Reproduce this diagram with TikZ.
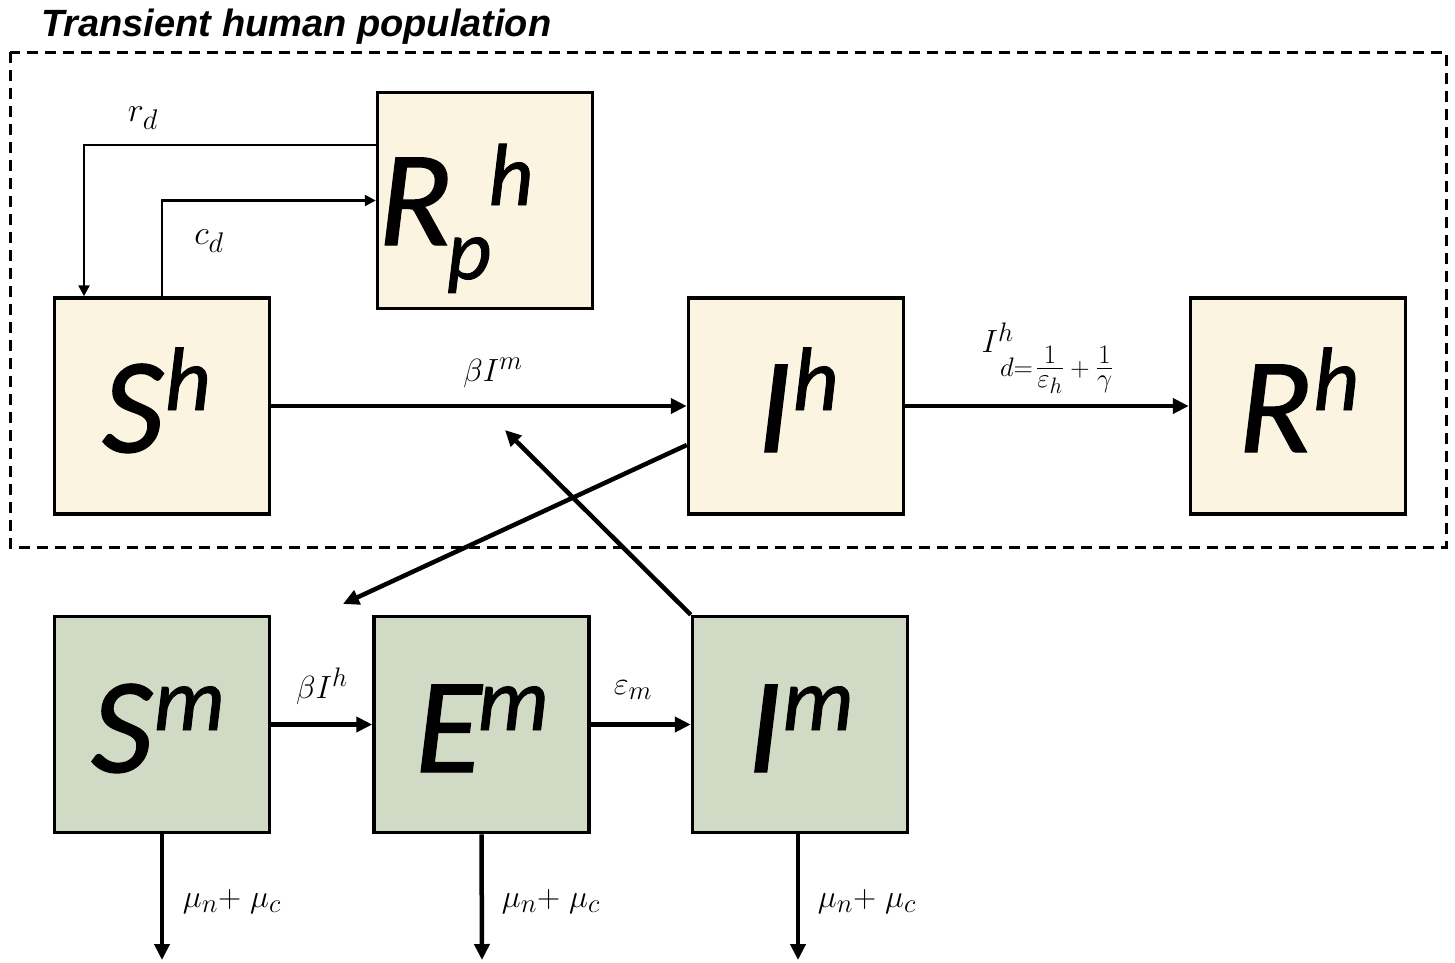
\documentclass[tikz,border=0pt]{standalone}
\usepackage{fontspec}
\usepackage{amsmath}
\usepackage{graphicx}
\usetikzlibrary{arrows.meta}
\setmainfont{Liberation Sans}
\newfontfamily\boxfont{Carlito}[ItalicFeatures={FakeBold=1}]
\definecolor{humanfill}{RGB}{251,244,225}
\definecolor{mosqfill}{RGB}{208,218,197}
\newcommand\bigsym[3][1pt]{{\boxfont\itshape\fontsize{136}{140}\selectfont #2\kern#1\raisebox{42pt}{\fontsize{90}{92}\selectfont #3}}}
\newcommand\mlbl[2][1.29]{\scalebox{#1}{\fontsize{24.88}{28}\selectfont$#2$}}
\tikzset{
  compbox/.style={draw=black, line width=3.5pt, minimum width=215pt, minimum height=216pt, inner sep=0pt},
  hbox/.style={compbox, fill=humanfill},
  mbox/.style={compbox, fill=mosqfill},
  symlbl/.style={anchor=base west, inner sep=0pt},
  thickarrow/.style={line width=4.5pt, -{Triangle[length=16pt,width=15pt]}},
  thinarrow/.style={line width=2.5pt, -{Triangle[length=11pt,width=11pt]}},
  ratelbl/.style={inner sep=0pt}
}
\begin{document}
\begin{tikzpicture}[x=1pt,y=-1pt]
\useasboundingbox (0,0) rectangle (1455,962);
% group frame
\draw[line width=3pt, dash pattern=on 11pt off 7pt] (10,52) rectangle (1446,547);
\node[anchor=base west, inner sep=0pt, font=\fontsize{38}{42}\selectfont\bfseries\itshape] (title) at (41,36) {Transient human population};
% compartments
\node[hbox] (Rp) at (485,200.5) {};
\node[hbox] (Sh) at (162,406) {};
\node[hbox] (Ih) at (796,406) {};
\node[hbox] (Rh) at (1298,406) {};
\node[mbox] (Sm) at (162,724.5) {};
\node[mbox] (Em) at (481.5,724.5) {};
\node[mbox] (Im) at (800,724.5) {};
% compartment labels
\node[symlbl] (tSh) at (102,452) {\bigsym{S}{h}};
\node[symlbl] (tIh) at (757,452) {\bigsym{I}{h}};
\node[symlbl] (tRh) at (1238,452) {\bigsym{R}{h}};
\node[symlbl] (tSm) at (91,772) {\bigsym{S}{m}};
\node[symlbl] (tEm) at (415,772) {\bigsym[-4pt]{E}{m}};
\node[symlbl] (tIm) at (747,772) {\bigsym{I}{m}};
\node[symlbl] (tRp) at (378,245) {{\boxfont\itshape\fontsize{136}{140}\selectfont R\kern-5pt\raisebox{-34pt}{\fontsize{86}{90}\selectfont p}\kern-3pt\raisebox{40pt}{\fontsize{88}{90}\selectfont h}}};
% free ends
\coordinate (toSm) at (343,604);
\coordinate (toBeta) at (505,430);
\coordinate (dSm) at (162,960);
\coordinate (dEm) at (482,960);
\coordinate (dIm) at (798,960);
% connectors
\draw[thinarrow] ([yshift=55.5pt]Rp.west) -| ([xshift=-78pt]Sh.north);
\draw[thinarrow] (Sh.north) |- (Rp.west);
\draw[thickarrow] (Sh.east) -- (Ih.west);
\draw[thickarrow] (Ih.east) -- (Rh.west);
\draw[thickarrow] ([yshift=-39pt]Ih.west) -- (toSm);
\draw[thickarrow] (Im.north west) -- (toBeta);
\draw[thickarrow] (Sm.east) -- (Em.west);
\draw[thickarrow] (Em.east) -- (Im.west);
\draw[thickarrow] (Sm.south) -- (dSm);
\draw[thickarrow] (Em.south) -- (dEm);
\draw[thickarrow] ([xshift=-2pt]Im.south) -- (dIm);
% rate labels
\node[ratelbl] (lrd) at (143,118) {\mlbl[1.37]{r_d}};
\node[ratelbl] (lcd) at (209,241) {\mlbl[1.37]{c_d}};
\node[ratelbl] (lbIm) at (493,373) {\mlbl{\beta I^{m}}};
\node[ratelbl] (lId) at (1048,358) {\mlbl{I^{h}_{\,d=\mkern2mu\genfrac{}{}{0.6pt}{1}{1}{\varepsilon_h}\mkern4mu+\mkern4mu\genfrac{}{}{0.6pt}{1}{1}{\gamma}}}};
\node[ratelbl] (lbIh) at (322,686) {\mlbl{\beta I^{h}}};
\node[ratelbl] (lem) at (633,690) {\mlbl{\varepsilon_m}};
\node[ratelbl] (lmu1) at (232,902) {\mlbl{\mu_n{+}\;\mu_c}};
\node[ratelbl] (lmu2) at (551,902) {\mlbl{\mu_n{+}\;\mu_c}};
\node[ratelbl] (lmu3) at (867,902) {\mlbl{\mu_n{+}\;\mu_c}};
\end{tikzpicture}
\end{document}
